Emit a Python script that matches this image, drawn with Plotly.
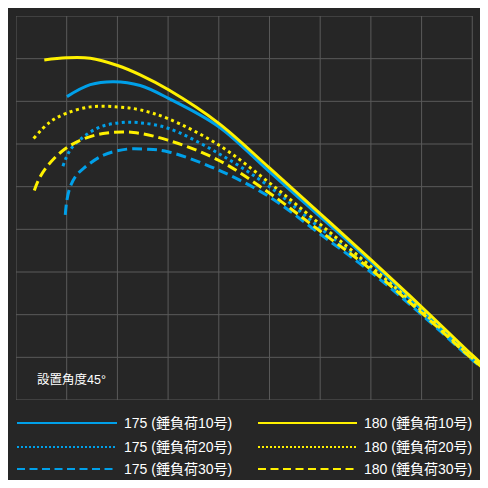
import plotly.graph_objects as go

# 175 (錘負荷10号)
x_175_10 = [10.05, 14.65, 19.3, 24.50, 30.08, 39.94, 49.99, 59.98, 69.98, 80.03, 90.0, 93.1]
y_175_10 = [71.1, 73.9, 74.6, 73.7, 70.7, 64.1, 53.5, 43.0, 32.4, 21.2, 10.0, 6.9]
# 180 (錘負荷10号)
x_180_10 = [5.58, 9.92, 14.65, 20.03, 24.50, 30.08, 39.94, 49.99, 59.98, 69.98, 80.03, 90.0, 93.1]
y_180_10 = [79.7, 80.2, 80.1, 78.4, 76.2, 72.7, 64.9, 54.4, 43.7, 32.9, 21.8, 10.5, 7.2]
# 175 (錘負荷20号)
x_175_20 = [9.26, 10.70, 13.33, 16.62, 20.56, 24.17, 29.96, 39.94, 49.99, 59.98, 69.98, 80.03, 90.0, 93.1]
y_175_20 = [54.8, 58.6, 61.7, 64.0, 65.0, 65.0, 63.7, 57.8, 50.0, 40.3, 30.9, 20.5, 9.6, 6.6]
# 180 (錘負荷20号)
x_180_20 = [3.47, 6.76, 9.92, 14.65, 20.03, 24.50, 30.08, 39.94, 49.99, 59.98, 69.98, 80.03, 90.0, 93.1]
y_180_20 = [61.3, 65.2, 67.2, 68.7, 68.7, 68.0, 65.9, 59.8, 50.9, 41.2, 31.3, 20.9, 9.8, 6.8]
# 175 (錘負荷30号)
x_175_30 = [9.72, 10.05, 10.70, 11.69, 13.33, 17.27, 21.88, 25.49, 29.96, 39.94, 49.99, 59.98, 69.98, 80.03, 90.0, 93.1]
y_175_30 = [43.4, 46.9, 50.0, 52.3, 54.3, 57.4, 58.8, 58.8, 58.2, 53.9, 47.6, 38.9, 30.0, 20.0, 9.4, 6.4]
# 180 (錘負荷30号)
x_180_30 = [3.61, 4.45, 6.11, 9.38, 13.33, 17.94, 23.18, 29.96, 39.94, 49.99, 59.98, 69.98, 80.03, 90.0, 93.1]
y_180_30 = [49.1, 51.6, 54.7, 58.6, 61.2, 62.6, 62.7, 60.9, 56.2, 48.5, 39.6, 30.6, 20.4, 9.6, 6.6]

grid_ticks = [0, 10, 20, 30, 40, 50, 60, 70, 80, 90]
angle_label = "設置角度45°"

BLUE = "#00a0e9"
YELLOW = "#fff100"
BG = "#262626"
GRID = "#5a5a5a"
FONT = "Liberation Sans, Noto Sans CJK JP, sans-serif"

series = [
    ("175 (錘負荷10号)", x_175_10, y_175_10, BLUE, "solid"),
    ("175 (錘負荷20号)", x_175_20, y_175_20, BLUE, "3px,3.5px"),
    ("175 (錘負荷30号)", x_175_30, y_175_30, BLUE, "10px,5px"),
    ("180 (錘負荷10号)", x_180_10, y_180_10, YELLOW, "solid"),
    ("180 (錘負荷20号)", x_180_20, y_180_20, YELLOW, "3px,3.5px"),
    ("180 (錘負荷30号)", x_180_30, y_180_30, YELLOW, "10px,5px"),
]

fig = go.Figure()
for name, xs, ys, color, dash in series:
    fig.add_trace(go.Scatter(x=xs, y=ys, name=name, mode="lines",
                             line=dict(color=color, width=3, dash=dash,
                                       shape="spline", smoothing=1.0),
                             hoverinfo="skip"))

# grid drawn as shapes so it stops at the last tick while lines run past it
shapes = []
for t in grid_ticks:
    shapes.append(dict(type="line", xref="x", yref="y", x0=t, x1=t, y0=0, y1=90,
                       line=dict(color=GRID, width=1), layer="below"))
    shapes.append(dict(type="line", xref="x", yref="y", x0=0, x1=90, y0=t, y1=t,
                       line=dict(color=GRID, width=1), layer="below"))


# page pixel -> paper coords (plot area is 16..488 wide, 16..400 high on the page)
def px_x(px):
    return (px - 16) / 472


def px_y(py):
    return (400 - py) / 384


# hand-made legend, two columns of three rows
annotations = [dict(x=3.8, y=4.7, xref="x", yref="y", text=angle_label, showarrow=False,
                    xanchor="left", yanchor="middle",
                    font=dict(color="#ffffff", size=12.5, family=FONT))]
legend_dash = {"solid": "solid", "3px,3.5px": "2px,2px", "10px,5px": "8px,4.5px"}
row_y = [423, 447, 469]
col_x = [(17, 117, 122), (258, 357, 362)]
for i, (name, xs, ys, color, dash) in enumerate(series):
    c, r = divmod(i, 3)
    x0, x1, xt = col_x[c]
    shapes.append(dict(type="line", xref="paper", yref="paper",
                       x0=px_x(x0), x1=px_x(x1), y0=px_y(row_y[r]), y1=px_y(row_y[r]),
                       line=dict(color=color, width=2, dash=legend_dash[dash])))
    annotations.append(dict(x=px_x(xt), y=px_y(row_y[r]), xref="paper", yref="paper",
                            text=name, showarrow=False, xanchor="left", yanchor="middle",
                            font=dict(color="#ffffff", size=14, family=FONT)))

# the page body has an 8px margin, so the figure is sized to end at the window edge
fig.update_layout(
    width=480, height=472,
    margin=dict(l=8, r=0, t=8, b=80),
    paper_bgcolor=BG, plot_bgcolor=BG,
    showlegend=False,
    xaxis=dict(range=[0, 93.1], showgrid=False, zeroline=False, showticklabels=False,
               ticks="", fixedrange=True),
    yaxis=dict(range=[0, 90], showgrid=False, zeroline=False, showticklabels=False,
               ticks="", fixedrange=True),
    shapes=shapes,
    annotations=annotations,
)

fig.write_html("out.html")
